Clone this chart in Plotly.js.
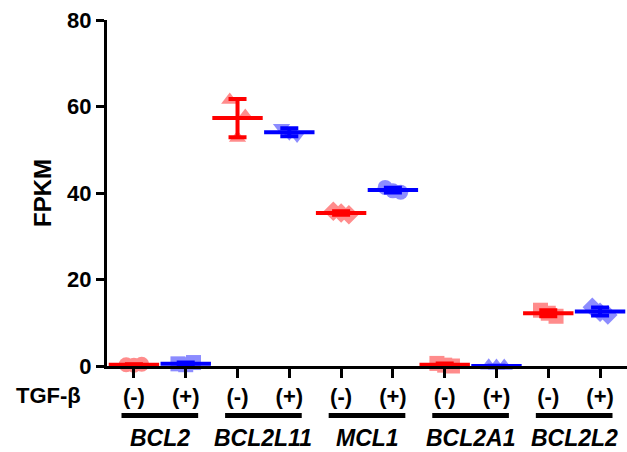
<!DOCTYPE html>
<html>
<head>
<meta charset="utf-8">
<script src="https://cdn.plot.ly/plotly-3.0.1.min.js"></script>
<style>html,body{margin:0;padding:0;background:#fff;}#chart{width:627px;height:452px;}</style>
</head>
<body>
<div id="chart"></div>
<script>
// ---- data ----
const genes = ["BCL2", "BCL2L11", "MCL1", "BCL2A1", "BCL2L2"];
const treatments = ["(-)", "(+)"];
// replicate FPKM values, order: gene x treatment
const BCL2_neg = [0.3, 0.4, 0.2];
const BCL2_pos = [0.5, 0.8, 0.3];
const BCL2L11_neg = [61.5, 57.8, 52.7];
const BCL2L11_pos = [55.1, 53.3, 53.8];
const MCL1_neg = [35.8, 35.0, 35.4];
const MCL1_pos = [41.3, 40.2, 40.5];
const BCL2A1_neg = [0.6, 0.0, 0.2];
const BCL2A1_pos = [0.05, 0.0, 0.02];
const BCL2L2_neg = [12.9, 11.5, 12.2];
const BCL2L2_pos = [13.6, 11.8, 12.4];

const series = [BCL2_neg, BCL2_pos, BCL2L11_neg, BCL2L11_pos, MCL1_neg, MCL1_pos, BCL2A1_neg, BCL2A1_pos, BCL2L2_neg, BCL2L2_pos];

// ---- styles ----
const symbols = ["circle", "square", "triangle-up", "triangle-down", "diamond", "circle", "square", "triangle-up", "square", "diamond"];
const jitter = [-0.15, 0.15, 0.0];
const dark = ["#FF0000", "#0000FF"];
const light = ["#FF8C8C", "#8C8CFF"];

const mean = a => a.reduce((s, v) => s + v, 0) / a.length;
const sd = a => { const m = mean(a); return Math.sqrt(a.reduce((s, v) => s + (v - m) * (v - m), 0) / (a.length - 1)); };

const traces = [];
series.forEach((vals, i) => {
  const t = i % 2;
  traces.push({
    type: "scatter", mode: "markers",
    x: vals.map((v, k) => i + jitter[k]), y: vals,
    marker: { symbol: symbols[i], size: 15, color: light[t], line: { width: 0 } },
    cliponaxis: false, showlegend: false, hoverinfo: "y"
  });
});
series.forEach((vals, i) => {
  const t = i % 2;
  traces.push({
    type: "scatter", mode: "markers",
    x: [i], y: [mean(vals)],
    marker: { symbol: "line-ew", size: 36, color: dark[t], line: { width: 4, color: dark[t] } },
    error_y: { type: "data", array: [sd(vals)], visible: true, color: dark[t], thickness: 4, width: 9 },
    cliponaxis: false, showlegend: false, hoverinfo: "y"
  });
});

const tickvals = [], ticktext = [];
genes.forEach((g, gi) => treatments.forEach((tr, ti) => { tickvals.push(gi * 2 + ti); ticktext.push(tr); }));

const font = { family: "Liberation Sans, Arial, sans-serif", color: "#000", size: 22 };
const geneFont = Object.assign({}, font, { size: 23 });
const titleFont = Object.assign({}, font, { size: 24 });
const shapes = [], annotations = [];
genes.forEach((g, gi) => {
  shapes.push({ type: "line", xref: "x", yref: "paper", x0: gi * 2 - 0.24, x1: gi * 2 + 1 + 0.24, y0: -0.143, y1: -0.143, line: { color: "#000", width: 5 } });
  annotations.push({ xref: "x", yref: "paper", x: gi * 2 + 0.5, y: -0.207, text: "<b><i>" + g + "</i></b>", showarrow: false, xanchor: "center", yanchor: "middle", font: geneFont });
});
annotations.push({ xref: "paper", yref: "paper", x: 0, y: 0, xanchor: "right", yanchor: "middle", xshift: -24, yshift: -29, text: "<b>TGF-β</b>", showarrow: false, font: font });

const layout = {
  width: 627, height: 452,
  margin: { l: 107, r: 0, t: 20, b: 86 },
  paper_bgcolor: "#fff", plot_bgcolor: "#fff",
  font: font,
  xaxis: {
    range: [-0.52, 9.52], tickmode: "array", tickvals: tickvals, ticktext: ticktext.map(s => "<b>" + s + "</b>"),
    showline: true, linewidth: 3, linecolor: "#000", ticks: "outside", ticklen: 9, tickwidth: 3, tickcolor: "#000",
    showgrid: false, zeroline: false, tickfont: font
  },
  yaxis: {
    range: [0, 80], tickvals: [0, 20, 40, 60, 80], ticktext: ["<b>0</b>", "<b>20</b>", "<b>40</b>", "<b>60</b>", "<b>80</b>"],
    showline: true, linewidth: 3, linecolor: "#000", ticks: "outside", ticklen: 8, tickwidth: 3, tickcolor: "#000",
    showgrid: false, zeroline: false, tickfont: font,
    title: { text: "<b>FPKM</b>", font: titleFont, standoff: 9 }
  },
  shapes: shapes, annotations: annotations
};

Plotly.newPlot("chart", traces, layout, { displayModeBar: false, staticPlot: true });
</script>
</body>
</html>
